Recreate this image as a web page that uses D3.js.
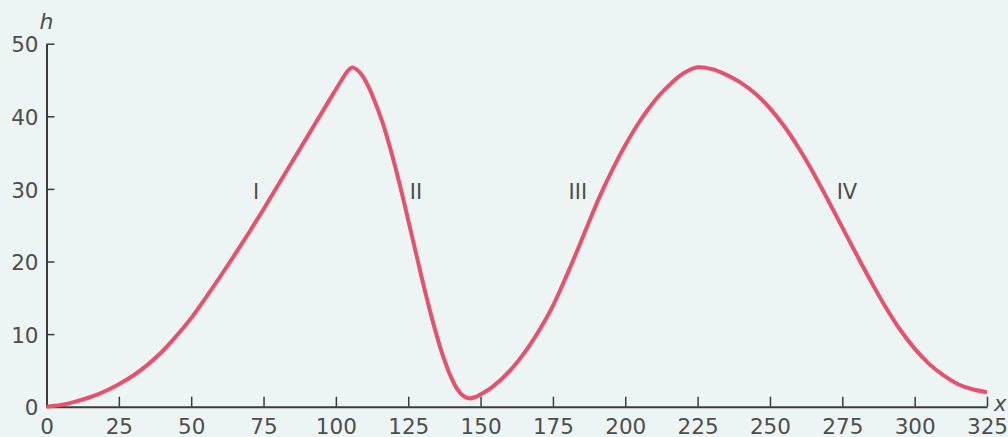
<!DOCTYPE html>
<html>
<head>
<meta charset="utf-8">
<script src="https://cdn.jsdelivr.net/npm/d3@7"></script>
<style>
  html, body { margin: 0; padding: 0; background: #ecf4f4; }
  svg { display: block; }
  text { font-family: "DejaVu Sans", "Liberation Sans", Arial, sans-serif; fill: #4d4d4d; }
</style>
</head>
<body>
<svg id="chart" width="1008" height="437"></svg>
<script>
// Profile h(x): distance along x, height h
const xValues = [0, 5, 10, 15, 20, 25, 30, 35, 40, 45, 50, 55, 60, 65, 70, 75, 80, 85, 90, 95, 98, 100, 102, 104, 105.5, 107, 109, 111, 113, 116, 119, 122, 125, 128, 131, 134, 137, 140, 142, 144, 146, 148, 150, 154, 160, 166, 171, 175, 179, 183, 187, 191, 196, 200, 204, 208, 212, 216, 220, 225, 230, 235, 240, 245, 250, 255, 260, 265, 270, 275, 280, 285, 290, 295, 300, 305, 310, 315, 320, 325];
const hValues = [0, 0.25, 0.7, 1.3, 2.1, 3.1, 4.3, 5.8, 7.6, 9.8, 12.2, 15.0, 17.9, 20.9, 24.0, 27.2, 30.5, 33.8, 37.1, 40.4, 42.4, 43.7, 45.0, 46.2, 46.7, 46.5, 45.7, 44.3, 42.5, 39.3, 35.3, 30.7, 25.7, 20.6, 15.6, 11.0, 7.0, 3.9, 2.4, 1.5, 1.15, 1.3, 1.7, 2.7, 4.9, 7.9, 11.0, 13.9, 17.4, 21.1, 25.0, 28.8, 33.0, 36.0, 38.7, 41.0, 43.0, 44.6, 45.9, 46.75, 46.5, 45.7, 44.6, 43.1, 41.1, 38.6, 35.6, 32.2, 28.5, 24.7, 20.9, 17.2, 13.7, 10.6, 8.0, 5.9, 4.3, 3.1, 2.4, 2.0];

const xTicks = [0, 25, 50, 75, 100, 125, 150, 175, 200, 225, 250, 275, 300, 325];
const hTicks = [0, 10, 20, 30, 40, 50];

// Section names, placed at (x, h) in data units
const sectionNames = ["I", "II", "III", "IV"];
const sectionX = [72.4, 127.7, 183.6, 276.6];
const sectionH = [29.6, 29.6, 29.6, 29.6];

const svg = d3.select("#chart");

const x = d3.scaleLinear().domain([0, 325]).range([46.5, 987]);
const y = d3.scaleLinear().domain([0, 50]).range([406.7, 43.7]);

const axisColor = "#3c3c3c";
const labelFont = "'DejaVu Sans', 'Liberation Sans', Arial, sans-serif";

// x axis: ticks point up into the plot
const gx = svg.append("g").attr("transform", `translate(0,${y(0)})`);
gx.call(d3.axisBottom(x).tickValues(xTicks).tickSize(-10).tickSizeOuter(0));
gx.select(".domain").attr("stroke", axisColor).attr("stroke-width", 2);
gx.selectAll(".tick line").attr("stroke", axisColor).attr("stroke-width", 1.5);
gx.selectAll(".tick text").attr("font-size", 21.5).attr("y", 27.5).attr("dy", 0)
  .style("font-family", labelFont).attr("fill", "#4d4d4d");

// h axis: ticks point right into the plot
const gy = svg.append("g").attr("transform", `translate(${x(0)},0)`);
gy.call(d3.axisLeft(y).tickValues(hTicks).tickSize(-8).tickSizeOuter(0));
gy.select(".domain").attr("stroke", axisColor).attr("stroke-width", 2);
gy.selectAll(".tick line").attr("stroke", axisColor).attr("stroke-width", 1.5);
gy.selectAll(".tick text").attr("font-size", 21.5).attr("x", -8).attr("dy", "0.38em")
  .style("font-family", labelFont).attr("fill", "#4d4d4d");

// axis titles
svg.append("text").attr("x", x(0)).attr("y", 29).attr("text-anchor", "middle")
  .attr("font-size", 22).attr("font-style", "italic").text("h");
svg.append("text").attr("x", 994).attr("y", 411).attr("text-anchor", "start")
  .attr("font-size", 21).attr("font-style", "italic").text("x");

// profile curve
const pts = xValues.map((v, i) => [v, hValues[i]]);
const line = d3.line().x(d => x(d[0])).y(d => y(d[1])).curve(d3.curveCatmullRom.alpha(0.5));
svg.append("path").datum(pts).attr("d", line)
  .attr("fill", "none").attr("stroke", "#e8506c").attr("stroke-width", 4)
  .attr("stroke-linejoin", "round");

// section labels
svg.selectAll("text.section").data(sectionNames).join("text")
  .attr("class", "section")
  .attr("x", (d, i) => x(sectionX[i]))
  .attr("y", (d, i) => y(sectionH[i]))
  .attr("dy", "0.36em").attr("text-anchor", "middle")
  .attr("font-size", 21).text(d => d);
</script>
</body>
</html>
